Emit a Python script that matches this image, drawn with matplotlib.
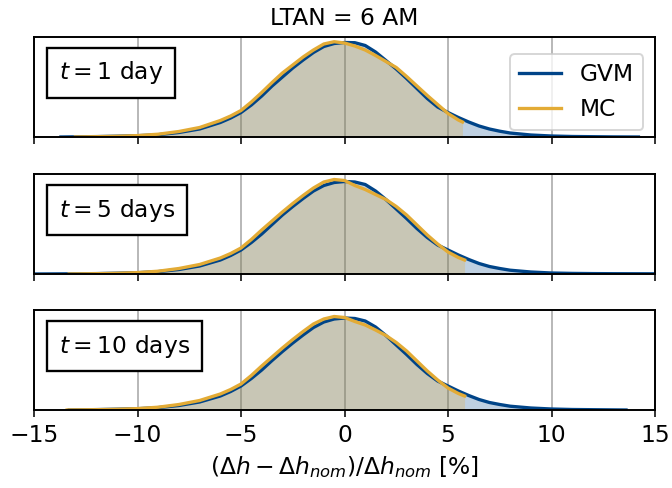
import matplotlib
matplotlib.use("Agg")
import matplotlib.pyplot as plt

# Normalised error densities, (Δh - Δh_nom)/Δh_nom in percent
panel_labels = [r"$t = 1$ day", r"$t = 5$ days", r"$t = 10$ days"]

gvm_x_1 = [-13.7, -12, -11, -10, -9, -8, -7, -6, -5.5, -5, -4.5, -4, -3.5, -3, -2.5, -2, -1.5, -1,
           -0.5, 0, 0.5, 1, 1.5, 2, 2.5, 3, 3.5, 4, 4.5, 5, 5.5, 6, 6.5, 7, 7.5, 8, 9, 10, 11, 12, 13, 14.2]
gvm_y_1 = [0.0, 0.004, 0.008, 0.013, 0.023, 0.045, 0.08, 0.145, 0.19, 0.245, 0.32, 0.41, 0.51, 0.60,
           0.69, 0.77, 0.845, 0.905, 0.935, 0.945, 0.943, 0.915, 0.85, 0.765, 0.68, 0.585, 0.485, 0.385,
           0.30, 0.245, 0.195, 0.15, 0.11, 0.08, 0.058, 0.04, 0.02, 0.01, 0.005, 0.003, 0.001, 0.0]
mc_x_1 = [-13.0, -12, -11, -10, -9, -8, -7, -6, -5.5, -5, -4.5, -4, -3.5, -3, -2.5, -2, -1.5, -1,
          -0.5, 0, 0.5, 1, 1.5, 2, 2.5, 3, 3.5, 4, 4.5, 5, 5.5, 5.7]
mc_y_1 = [0.0, 0.003, 0.007, 0.014, 0.028, 0.055, 0.095, 0.165, 0.21, 0.265, 0.35, 0.445, 0.545, 0.64,
          0.72, 0.80, 0.87, 0.93, 0.953, 0.94, 0.91, 0.87, 0.815, 0.755, 0.695, 0.605, 0.51, 0.415,
          0.325, 0.235, 0.17, 0.15]

gvm_x_5 = [-15, -13, -12, -11, -10, -9, -8, -7, -6, -5.5, -5, -4.5, -4, -3.5, -3, -2.5, -2, -1.5, -1,
           -0.5, 0, 0.5, 1, 1.5, 2, 2.5, 3, 3.5, 4, 4.5, 5, 5.5, 6, 6.5, 7, 7.5, 8, 9, 10, 11, 12, 13, 15]
gvm_y_5 = [0.0, 0.002, 0.004, 0.008, 0.013, 0.024, 0.045, 0.08, 0.14, 0.185, 0.24, 0.315, 0.40, 0.495,
           0.59, 0.675, 0.755, 0.83, 0.885, 0.915, 0.925, 0.92, 0.895, 0.83, 0.745, 0.65, 0.555, 0.455,
           0.365, 0.29, 0.24, 0.19, 0.145, 0.105, 0.075, 0.055, 0.038, 0.02, 0.01, 0.006, 0.004, 0.003,
           0.002]
mc_x_5 = [-13.3, -12, -11, -10, -9, -8, -7, -6, -5.5, -5, -4.5, -4, -3.5, -3, -2.5, -2, -1.5, -1,
          -0.5, 0, 0.5, 1, 1.5, 2, 2.5, 3, 3.5, 4, 4.5, 5, 5.5, 5.8]
mc_y_5 = [0.0, 0.003, 0.007, 0.014, 0.028, 0.055, 0.095, 0.16, 0.205, 0.26, 0.345, 0.44, 0.53, 0.62,
          0.705, 0.785, 0.86, 0.92, 0.945, 0.935, 0.885, 0.845, 0.795, 0.745, 0.675, 0.59, 0.49, 0.39,
          0.30, 0.22, 0.165, 0.14]

gvm_x_10 = [-13.3, -12, -11, -10, -9, -8, -7, -6, -5.5, -5, -4.5, -4, -3.5, -3, -2.5, -2, -1.5, -1,
            -0.5, 0, 0.5, 1, 1.5, 2, 2.5, 3, 3.5, 4, 4.5, 5, 5.5, 6, 6.5, 7, 7.5, 8, 9, 10, 11, 12, 13.6]
gvm_y_10 = [0.0, 0.004, 0.008, 0.013, 0.024, 0.045, 0.08, 0.14, 0.185, 0.24, 0.315, 0.40, 0.495, 0.585,
            0.67, 0.75, 0.825, 0.88, 0.91, 0.92, 0.915, 0.89, 0.83, 0.745, 0.65, 0.555, 0.455, 0.365,
            0.29, 0.24, 0.19, 0.145, 0.105, 0.075, 0.055, 0.038, 0.02, 0.01, 0.005, 0.003, 0.0]
mc_x_10 = [-13.4, -12, -11, -10, -9, -8, -7, -6, -5.5, -5, -4.5, -4, -3.5, -3, -2.5, -2, -1.5, -1,
           -0.5, 0, 0.5, 1, 1.5, 2, 2.5, 3, 3.5, 4, 4.5, 5, 5.5, 5.8]
mc_y_10 = [0.0, 0.003, 0.007, 0.014, 0.028, 0.055, 0.095, 0.16, 0.205, 0.26, 0.345, 0.44, 0.53, 0.62,
           0.705, 0.785, 0.86, 0.91, 0.935, 0.925, 0.885, 0.85, 0.80, 0.745, 0.675, 0.59, 0.49, 0.39,
           0.30, 0.22, 0.165, 0.14]

gvm_series = [(gvm_x_1, gvm_y_1), (gvm_x_5, gvm_y_5), (gvm_x_10, gvm_y_10)]
mc_series = [(mc_x_1, mc_y_1), (mc_x_5, mc_y_5), (mc_x_10, mc_y_10)]

x_ticks = [-15, -10, -5, 0, 5, 10, 15]

GVM_COLOR = "#004488"
MC_COLOR = "#e3ab35"

plt.rcParams["font.family"] = ["DejaVu Sans"]
plt.rcParams["font.size"] = 12

fig = plt.figure(figsize=(4.8, 488 / 140), dpi=140)
left, width = 34 / 672, (655 - 34) / 672
tops_px = [37, 174, 310]
height = 100 / 488
axes = [fig.add_axes([left, 1 - (t + 100) / 488, width, height]) for t in tops_px]

for i, ax in enumerate(axes):
    gx, gy = gvm_series[i]
    mx, my = mc_series[i]
    ax.fill_between(gx, gy, color=GVM_COLOR, alpha=0.25, lw=0)
    ax.fill_between(mx, my, color=MC_COLOR, alpha=0.25, lw=0)
    ax.plot(gx, gy, color=GVM_COLOR, lw=1.7, label="GVM", solid_joinstyle="round")
    ax.plot(mx, my, color=MC_COLOR, lw=1.7, label="MC", solid_joinstyle="round")
    ax.set_xlim(-15, 15)
    ax.set_ylim(0, 1.0)
    ax.set_yticks([])
    ax.set_xticks(x_ticks)
    ax.grid(axis="x", color="#b0b0b0", lw=0.9)
    ax.set_axisbelow(True)
    for s in ax.spines.values():
        s.set_linewidth(1.0)
    if i < 2:
        ax.tick_params(axis="x", labelbottom=False)
    ax.text(0.04, 0.64, panel_labels[i], transform=ax.transAxes, ha="left", va="center",
            bbox=dict(boxstyle="square,pad=0.5", fc="white", ec="black", lw=1.2))

axes[0].legend(loc="center right", bbox_to_anchor=(1.0, 0.45), handlelength=1.8)
axes[0].set_title("LTAN = 6 AM", fontsize=12, pad=6)
axes[2].set_xlabel(r"$(\Delta h - \Delta h_{nom})/\Delta h_{nom}$ [%]")

fig.savefig("out.png", dpi=140)
